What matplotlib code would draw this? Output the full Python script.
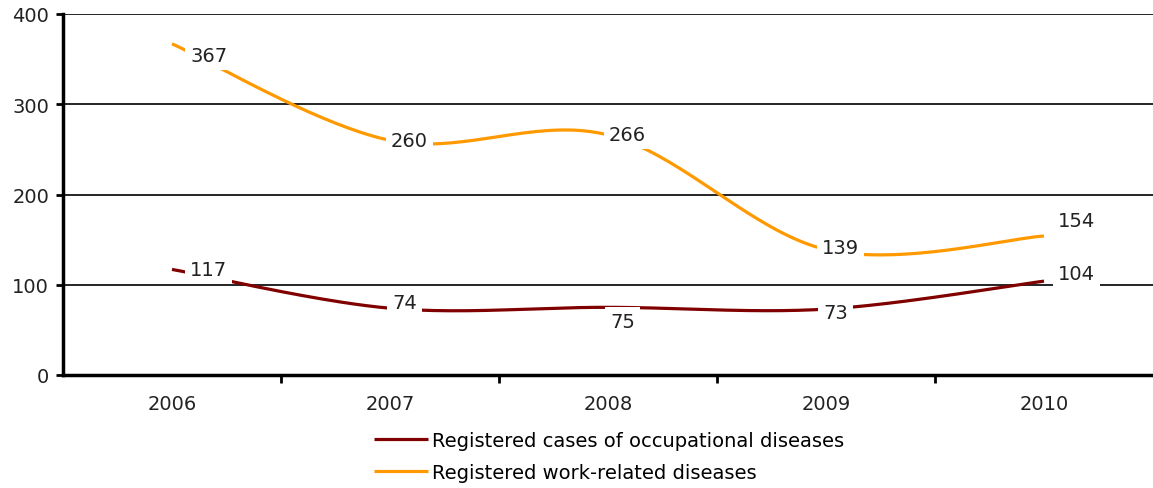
import numpy as np
import matplotlib
matplotlib.use("Agg")
import matplotlib.pyplot as plt
from matplotlib.ticker import FixedLocator

years = ["2006", "2007", "2008", "2009", "2010"]
occupational = [117, 74, 75, 73, 104]
work_related = [367, 260, 266, 139, 154]
series_names = ["Registered cases of occupational diseases", "Registered work-related diseases"]
colors = ["#800000", "#FF9900"]

# label offsets in pixels (dx, dy) relative to each point
occ_offsets = [(18, 0), (2, 6), (2, -14), (-3, -3), (14, 8)]
work_offsets = [(18, -12), (1, 0), (1, 0), (-4, 2), (14, 16)]


def smooth(xs, ys, n=40):
    xs = np.asarray(xs, float)
    ys = np.asarray(ys, float)
    P = np.column_stack([xs, ys])
    out = []
    for i in range(len(P) - 1):
        p0 = P[i - 1] if i > 0 else P[i]
        p1 = P[i]
        p2 = P[i + 1]
        p3 = P[i + 2] if i + 2 < len(P) else P[i + 1]
        c1 = p1 + (p2 - p0) / 6.0
        c2 = p2 - (p3 - p1) / 6.0
        t = np.linspace(0, 1, n)[:, None]
        seg = ((1 - t) ** 3) * p1 + 3 * ((1 - t) ** 2) * t * c1 + 3 * (1 - t) * t ** 2 * c2 + t ** 3 * p2
        out.append(seg if i == 0 else seg[1:])
    out = np.vstack(out)
    return out[:, 0], out[:, 1]


FS = 14
plt.rcParams['font.family'] = ['DejaVu Sans']
fig = plt.figure(figsize=(11.53, 4.89), dpi=100)
ax = fig.add_axes([63 / 1153, 1 - 376 / 489, 1 - 63 / 1153, (376 - 15) / 489])

x = np.arange(len(years))
handles = []
for vals, col, name in [(occupational, colors[0], series_names[0]), (work_related, colors[1], series_names[1])]:
    sx, sy = smooth(x, vals)
    h, = ax.plot(sx, sy, color=col, lw=2.3, zorder=3, label=name, solid_capstyle='butt')
    handles.append(h)

for vals, offs in [(occupational, occ_offsets), (work_related, work_offsets)]:
    for xi, v, (dx, dy) in zip(x, vals, offs):
        ax.annotate(str(v), (xi, v), xytext=(dx, dy), textcoords='offset pixels',
                    ha='left', va='center', fontsize=FS, color='#222222', zorder=5,
                    bbox=dict(boxstyle='square,pad=0.25', fc='white', ec='none'))

ax.set_xlim(-0.5, 4.5)
ax.set_ylim(0, 400)
ax.set_yticks([0, 100, 200, 300, 400])
ax.set_yticklabels(["0", "100", "200", "300", "400"])
for gy in [100, 200, 300, 400]:
    ax.axhline(gy, color='black', lw=1.2, zorder=1)

ax.set_xticks(x)
ax.set_xticklabels(years)
ax.xaxis.set_minor_locator(FixedLocator([0.5, 1.5, 2.5, 3.5]))
ax.tick_params(axis='x', which='major', length=0, pad=14, labelsize=FS, labelcolor='#222222')
ax.tick_params(axis='x', which='minor', length=6, width=2, direction='out', color='black')
ax.tick_params(axis='y', which='major', length=5, width=2, direction='out', pad=5, labelsize=FS, labelcolor='#222222')

for s in ['top', 'right']:
    ax.spines[s].set_visible(False)
ax.spines['left'].set_linewidth(2.5)
ax.spines['bottom'].set_linewidth(2.5)
ax.spines['left'].set_zorder(4)
ax.spines['bottom'].set_zorder(4)

fig.legend(handles=handles, labels=series_names, loc='upper left',
           bbox_to_anchor=(374 / 1153, 1 - 432 / 489), frameon=False,
           prop={'size': FS}, handlelength=2.8, handletextpad=0.2, labelspacing=0.68,
           borderaxespad=0, borderpad=0)

fig.savefig("out.png", dpi=100)
